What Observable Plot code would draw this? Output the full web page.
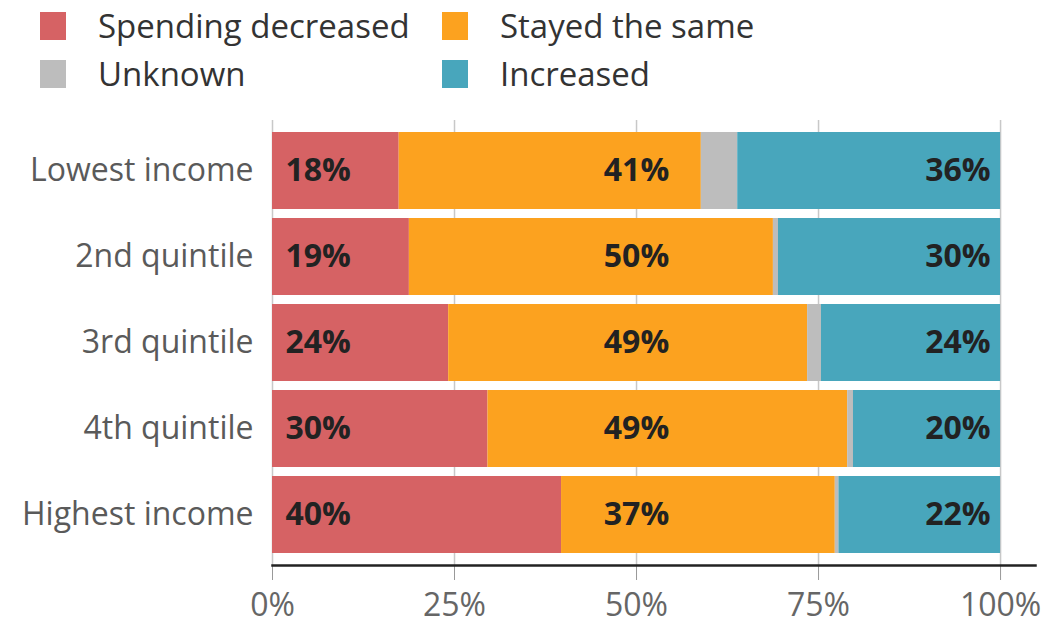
<!DOCTYPE html>
<html>
<head>
<meta charset="utf-8">
<script src="https://cdn.jsdelivr.net/npm/d3@7"></script>
<script src="https://cdn.jsdelivr.net/npm/@observablehq/plot@0.6"></script>
<style>
  html, body { margin: 0; padding: 0; background: #fff; }
  body { width: 1051px; height: 625px; overflow: hidden; font-family: "Open Sans", sans-serif; }
  #legend { position: relative; height: 110px; }
  .item { position: absolute; display: flex; align-items: center; font-size: 33px; color: #333; line-height: 40px; }
  .sw { width: 26px; height: 28px; margin-right: 32px; }
</style>
</head>
<body>
<div id="legend"></div>
<div id="chart"></div>
<script>
const groups = ["Lowest income", "2nd quintile", "3rd quintile", "4th quintile", "Highest income"];
const seriesNames = ["Spending decreased", "Stayed the same", "Unknown", "Increased"];
const seriesColors = ["#d66264", "#fca21f", "#bdbdbd", "#48a6bc"];
const decreased = [17.4, 18.8, 24.2, 29.6, 39.7];
const stayed    = [41.5, 50.0, 49.3, 49.4, 37.6];
const unknown   = [5.0, 0.7, 1.9, 0.8, 0.5];
const increased = [36.1, 30.5, 24.6, 20.2, 22.2];
const decreasedLabels = ["18%", "19%", "24%", "30%", "40%"];
const stayedLabels    = ["41%", "50%", "49%", "49%", "37%"];
const increasedLabels = ["36%", "30%", "24%", "20%", "22%"];
const xTicks = [0, 25, 50, 75, 100];

// legend
const legendPos = [[40, 6], [442, 6], [40, 54], [442, 54]];
const legend = document.getElementById("legend");
seriesNames.forEach((name, i) => {
  const d = document.createElement("div");
  d.className = "item";
  d.style.left = legendPos[i][0] + "px";
  d.style.top = legendPos[i][1] + "px";
  d.innerHTML = `<span class="sw" style="background:${seriesColors[i]}"></span><span>${name}</span>`;
  legend.appendChild(d);
});

const seriesValues = [decreased, stayed, unknown, increased];
const rows = [];
groups.forEach((g, i) => {
  seriesNames.forEach((s, k) => rows.push({group: g, series: s, value: seriesValues[k][i]}));
});

const labelRows = (labels) => groups.map((g, i) => ({group: g, label: labels[i]}));

const chart = Plot.plot({
  width: 1051,
  height: 515,
  marginLeft: 272,
  marginRight: 16,
  marginTop: 10,
  marginBottom: 60,
  style: {fontFamily: "'Open Sans', sans-serif", background: "#fff"},
  x: {domain: [0, 104.8], label: null},
  y: {domain: groups, label: null, paddingInner: 0.11, paddingOuter: 0.13},
  color: {domain: seriesNames, range: seriesColors},
  marks: [
    Plot.gridX(xTicks, {stroke: "#c8c8c8", strokeOpacity: 1, strokeWidth: 1.5}),
    Plot.barX(rows, {y: "group", x: "value", fill: "series", inset: 0}),
    Plot.text(labelRows(decreasedLabels), {y: "group", x: 0, text: "label", textAnchor: "start", dx: 13, fontSize: 32, fontWeight: "bold", fill: "#222"}),
    Plot.text(labelRows(stayedLabels), {y: "group", x: 50, text: "label", textAnchor: "middle", fontSize: 32, fontWeight: "bold", fill: "#222"}),
    Plot.text(labelRows(increasedLabels), {y: "group", x: 100, text: "label", textAnchor: "end", dx: -10, fontSize: 32, fontWeight: "bold", fill: "#222"}),
    Plot.axisY({tickSize: 0, tickPadding: 19, fontSize: 32, color: "#5a5a5a"}),
    Plot.axisX(xTicks, {tickSize: 15, tickPadding: 13, fontSize: 32, color: "#666", stroke: "#999", tickFormat: d => d + "%"}),
    Plot.frame({anchor: "bottom", stroke: "#222", strokeWidth: 2.5})
  ]
});
document.getElementById("chart").appendChild(chart);
</script>
</body>
</html>
